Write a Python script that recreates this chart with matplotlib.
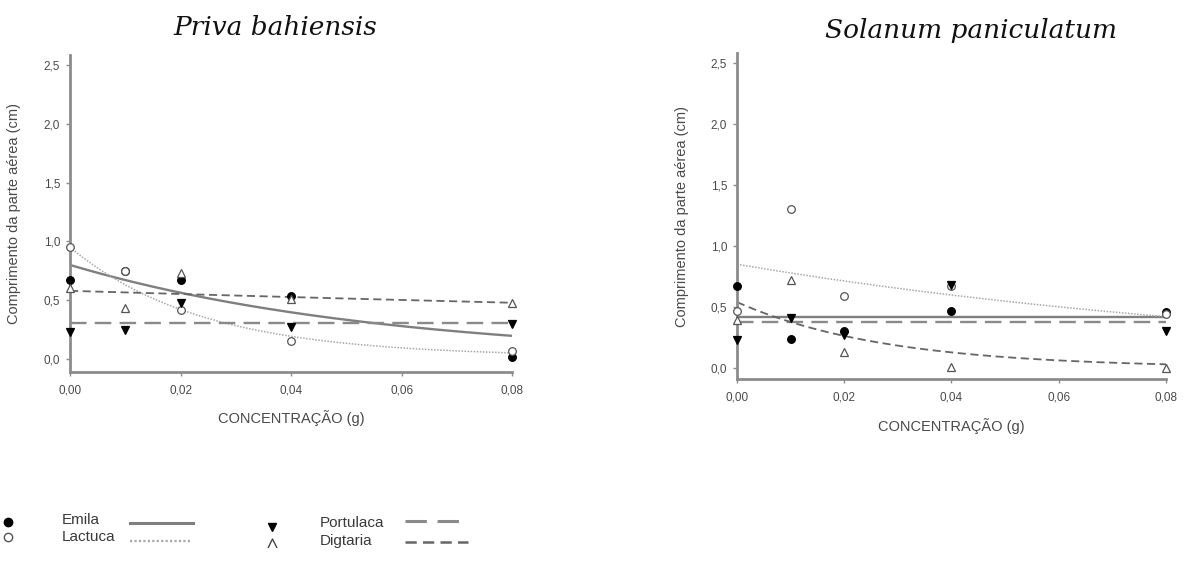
import numpy as np
import matplotlib
matplotlib.use("Agg")
import matplotlib.pyplot as plt
from matplotlib.ticker import FuncFormatter
from matplotlib.path import Path

plt.rcParams['font.family'] = ['Liberation Sans', 'DejaVu Sans']

# concentrations tested (g)
conc = [0.0, 0.01, 0.02, 0.04, 0.08]
species = ['Emila', 'Lactuca', 'Portulaca', 'Digtaria']

# shoot length (cm) - Priva bahiensis extract
priva_emilia = [0.67, 0.75, 0.67, 0.54, 0.02]
priva_lactuca = [0.95, 0.75, 0.42, 0.15, 0.07]
priva_portulaca = [0.23, 0.25, 0.48, 0.27, 0.30]
priva_digitaria = [0.60, 0.43, 0.73, 0.51, 0.48]

# shoot length (cm) - Solanum paniculatum extract
solanum_emilia = [0.67, 0.24, 0.30, 0.47, 0.46]
solanum_lactuca = [0.47, 1.30, 0.59, 0.67, 0.44]
solanum_portulaca = [0.23, 0.41, 0.27, 0.68, 0.30]
solanum_digitaria = [0.39, 0.72, 0.13, 0.01, 0.00]

# fitted curves  y = y0 + a*exp(-k*x), one entry per species
priva_y0 = [0.0, 0.02, 0.31, 0.0]
priva_a = [0.80, 0.93, 0.0, 0.58]
priva_k = [17.5, 42.0, 0.0, 2.4]

solanum_y0 = [0.42, 0.0, 0.38, 0.0]
solanum_a = [0.0, 0.85, 0.0, 0.54]
solanum_k = [0.0, 8.8, 0.0, 36.0]

# marker / line look per species
caret = Path([(-1, -1), (0, 1), (1, -1)], [Path.MOVETO, Path.LINETO, Path.LINETO])
markers = ['o', 'o', 'v', '^']
faces = ['black', 'white', 'black', 'white']
edges = ['black', '#555555', 'black', '#555555']
line_colors = ['#7f7f7f', '#a8a8a8', '#8a8a8a', '#666666']
line_widths = [1.7, 1.1, 1.7, 1.3]
line_dashes = [None, (1, 1), (7, 3.5), (4.5, 2.5)]


def comma(v, pos):
    return ('%.1f' % v).replace('.', ',')


def comma2(v, pos):
    return ('%.2f' % v).replace('.', ',')


def draw_panel(ax, data, y0, a, k, ylim):
    xs = np.linspace(0, 0.08, 200)
    for i in range(4):
        fit = y0[i] + a[i] * np.exp(-k[i] * xs)
        ln, = ax.plot(xs, fit, color=line_colors[i], lw=line_widths[i], zorder=2)
        if line_dashes[i] is not None:
            ln.set_dashes(line_dashes[i])
    for i in range(4):
        ax.plot(conc, data[i], ls='none', marker=markers[i], ms=5.5,
                mfc=faces[i], mec=edges[i], mew=0.9, clip_on=False, zorder=3)
    ax.set_xlim(0, 0.08)
    ax.set_ylim(*ylim)
    ax.set_xticks([0, 0.02, 0.04, 0.06, 0.08])
    ax.set_yticks([0, 0.5, 1.0, 1.5, 2.0, 2.5])
    ax.xaxis.set_major_formatter(FuncFormatter(comma2))
    ax.yaxis.set_major_formatter(FuncFormatter(comma))
    for s in ['top', 'right']:
        ax.spines[s].set_visible(False)
    for s in ['left', 'bottom']:
        ax.spines[s].set_color('#8c8c8c')
        ax.spines[s].set_linewidth(2)
    ax.tick_params(direction='out', length=3, width=1, color='#8c8c8c',
                   labelsize=8.5, labelcolor='#4a4a4a')
    ax.tick_params(axis='x', pad=6)
    ax.tick_params(axis='y', pad=4)
    ax.set_xlabel('CONCENTRAÇÃO (g)', fontsize=10.5, color='#4a4a4a')
    ax.set_ylabel('Comprimento da parte aérea (cm)', fontsize=10.5, color='#4a4a4a')
    ax.xaxis.set_label_coords(0.5, -0.12)
    ax.yaxis.set_label_coords(-0.112, 0.5)


fig = plt.figure(figsize=(11.97, 5.72), dpi=100)

ax1 = fig.add_axes([0.0585, 0.3497, 0.3693, 0.5541])
draw_panel(ax1, [priva_emilia, priva_lactuca, priva_portulaca, priva_digitaria],
           priva_y0, priva_a, priva_k, (-0.11, 2.585))

ax2 = fig.add_axes([0.6157, 0.3374, 0.3584, 0.5699])
draw_panel(ax2, [solanum_emilia, solanum_lactuca, solanum_portulaca, solanum_digitaria],
           solanum_y0, solanum_a, solanum_k, (-0.09, 2.58))

fig.text(173 / 1197, 1 - 35 / 572, 'Priva bahiensis', family='DejaVu Serif',
         style='italic', fontsize=19, ha='left', va='baseline', color='#111111')
fig.text(825 / 1197, 1 - 38 / 572, 'Solanum paniculatum', family='DejaVu Serif',
         style='italic', fontsize=19, ha='left', va='baseline', color='#111111')

# legend along the bottom, laid out in pixel units
lg = fig.add_axes([0, 0, 1, 1], zorder=-1)
lg.set_xlim(0, 1197)
lg.set_ylim(572, 0)
lg.axis('off')

sym_x = [8, 8, 272, 272]
sym_y = [522, 537, 527, 543]
txt_x = [62, 62, 320, 320]
txt_y = [520, 537, 523, 541]
line_x = [(130, 193), (130, 190), (405, 465), (405, 468)]
line_y = [523, 541, 521, 542]
for i in range(4):
    if i == 3:
        lg.plot(sym_x[i], sym_y[i], marker=caret, ms=6.5, mfc='none', mec='#444444', mew=1.0)
    else:
        lg.plot(sym_x[i], sym_y[i], marker=markers[i], ms=6, mfc=faces[i],
                mec=edges[i], mew=1.0)
    lg.text(txt_x[i], txt_y[i], species[i], fontsize=11, color='#3a3a3a',
            ha='left', va='center')
    ln, = lg.plot(line_x[i], [line_y[i], line_y[i]], color=line_colors[i],
                  lw=line_widths[i] + 0.5)
    if line_dashes[i] is not None:
        ln.set_dashes(line_dashes[i])

fig.savefig('out.png', dpi=100)
